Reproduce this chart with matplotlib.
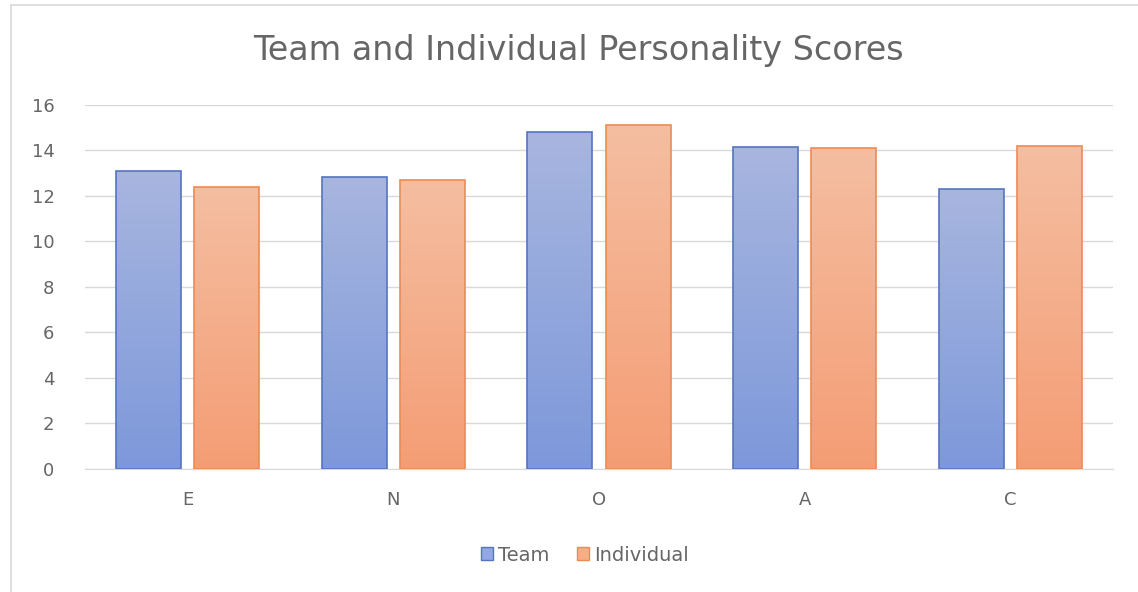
import matplotlib
matplotlib.use("Agg")
import matplotlib.pyplot as plt
import numpy as np
from matplotlib.colors import LinearSegmentedColormap
from matplotlib.patches import Rectangle
from matplotlib.lines import Line2D

categories = ["E", "N", "O", "A", "C"]
team = [13.1, 12.85, 14.8, 14.15, 12.3]
individual = [12.4, 12.7, 15.1, 14.1, 14.2]
yticks = [0, 2, 4, 6, 8, 10, 12, 14, 16]

plt.rcParams['font.family'] = ['DejaVu Sans']

fig = plt.figure(figsize=(11.38, 5.92), dpi=100)
ax = fig.add_axes([0.0747, 0.2078, 0.9033, 0.6149])

x = np.arange(len(categories))
w = 0.316
off = 0.19

team_cmap = LinearSegmentedColormap.from_list("t", ["#7d98da", "#a8b6df"])
ind_cmap = LinearSegmentedColormap.from_list("i", ["#f49d74", "#f5bea1"])

grad = np.linspace(0, 1, 256).reshape(-1, 1)

def gradient_bars(xs, vals, cmap, edge):
    bars = ax.bar(xs, vals, width=w, facecolor="none", edgecolor=edge, linewidth=1.2, zorder=3)
    for b in bars:
        bx, by = b.get_x(), b.get_y()
        bw, bh = b.get_width(), b.get_height()
        im = ax.imshow(grad, extent=(bx, bx + bw, by, by + bh), origin="lower",
                       cmap=cmap, aspect="auto", zorder=2)
        im.set_clip_path(b)
    return bars

b1 = gradient_bars(x - off, team, team_cmap, "#5575bd")
b2 = gradient_bars(x + off, individual, ind_cmap, "#ec8a55")

ax.set_xlim(-0.5, len(categories) - 0.5)
ax.set_ylim(0, 16)
ax.set_yticks(yticks)
ax.set_xticks(x)
ax.set_xticklabels(categories)
ax.yaxis.grid(True, color="#d9d9d9", linewidth=1, zorder=0)
ax.set_axisbelow(True)
for s in ["top", "right", "left"]:
    ax.spines[s].set_visible(False)
ax.spines["bottom"].set_color("#d9d9d9")
ax.tick_params(axis="both", length=0, colors="#666666", labelsize=13)
ax.tick_params(axis="x", pad=16)
ax.tick_params(axis="y", pad=22)

fig.text(0.508, 0.915, "Team and Individual Personality Scores", ha="center", va="center",
         fontsize=24, color="#666666")

h1 = Rectangle((0, 0), 1, 1, facecolor="#93a8de", edgecolor="#5575bd")
h2 = Rectangle((0, 0), 1, 1, facecolor="#f5ae8b", edgecolor="#ec8a55")
leg = fig.legend([h1, h2], ["Team", "Individual"], loc="center", bbox_to_anchor=(0.514, 0.062),
                 ncol=2, frameon=False, fontsize=14, handlelength=0.65, handleheight=0.65,
                 handletextpad=0.25, columnspacing=1.4)
for t in leg.get_texts():
    t.set_color("#666666")

fig.add_artist(Line2D([0.0097, 0.0097], [0.0, 0.992], transform=fig.transFigure,
                      color="#d9d9d9", linewidth=1.2))
fig.add_artist(Line2D([0.0097, 1.0], [0.992, 0.992], transform=fig.transFigure,
                      color="#d9d9d9", linewidth=1.2))

fig.savefig("out.png", dpi=100)
